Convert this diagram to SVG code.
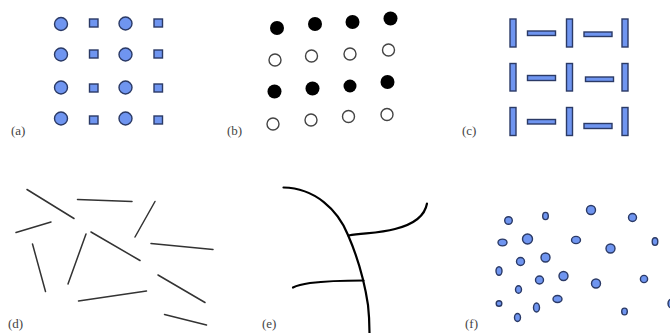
<svg xmlns="http://www.w3.org/2000/svg" width="670" height="333" viewBox="0 0 670 333">
<style>
.lbl{font-family:"Liberation Serif","DejaVu Serif",serif;font-size:13px;fill:#444}
.b{fill:#6f95f0;stroke:#2b3a66;stroke-width:1.4}
.blk{fill:#000}
.opn{fill:#fff;stroke:#444;stroke-width:1.4}
.ln{stroke:#333;stroke-width:1.5;fill:none;stroke-linecap:round}
.cv{stroke:#000;stroke-width:2.2;fill:none;stroke-linecap:round}
</style>
<g id="panel-a">
<g class="b">
<circle cx="61" cy="24" r="6.5"/><circle cx="125.5" cy="23.5" r="6.5"/>
<circle cx="61" cy="54.5" r="6.5"/><circle cx="125.5" cy="54.5" r="6.5"/>
<circle cx="61" cy="87.5" r="6.5"/><circle cx="125.5" cy="87.5" r="6.5"/>
<circle cx="61" cy="118.5" r="6.5"/><circle cx="125.5" cy="118.5" r="6.5"/>
<rect x="89.5" y="19" width="8.5" height="8"/><rect x="154" y="19" width="8.5" height="8"/>
<rect x="89.5" y="50" width="8.5" height="8"/><rect x="154" y="50" width="8.5" height="8"/>
<rect x="89.5" y="84" width="8.5" height="8"/><rect x="154" y="84" width="8.5" height="8"/>
<rect x="89.5" y="116" width="8.5" height="8"/><rect x="154" y="116" width="8.5" height="8"/>
</g>
<text class="lbl" x="11" y="135">(a)</text>
</g>
<g id="panel-b">
<circle class="blk" cx="277" cy="28" r="7"/><circle class="blk" cx="315" cy="24" r="7"/>
<circle class="blk" cx="352.5" cy="22" r="7"/><circle class="blk" cx="390.5" cy="18.5" r="7"/>
<circle class="opn" cx="275" cy="60" r="6"/><circle class="opn" cx="311.5" cy="56" r="6"/>
<circle class="opn" cx="350" cy="54" r="6"/><circle class="opn" cx="388.5" cy="50" r="6"/>
<circle class="blk" cx="274.5" cy="91.5" r="7"/><circle class="blk" cx="312.5" cy="88.5" r="7"/>
<circle class="blk" cx="350" cy="86" r="6.5"/><circle class="blk" cx="387.5" cy="82" r="7"/>
<circle class="opn" cx="273" cy="124" r="6"/><circle class="opn" cx="311" cy="120" r="6"/>
<circle class="opn" cx="348.5" cy="116.5" r="6"/><circle class="opn" cx="387" cy="114.5" r="6"/>
<text class="lbl" x="227" y="135">(b)</text>
</g>
<g id="panel-c">
<g class="b">
<rect x="510" y="19" width="6" height="28"/><rect x="566.5" y="19" width="6" height="28"/><rect x="622" y="19" width="6" height="28"/>
<rect x="510" y="63.5" width="6" height="27.5"/><rect x="566.5" y="63.5" width="6" height="27.5"/><rect x="622" y="63.5" width="6" height="27.5"/>
<rect x="510" y="107.5" width="6" height="28"/><rect x="566.5" y="107.5" width="6" height="28"/><rect x="622" y="107.5" width="6" height="28"/>
<rect x="527.5" y="31" width="28" height="4.5"/><rect x="584" y="32" width="28" height="4.5"/>
<rect x="527.5" y="75.5" width="28" height="5"/><rect x="585.5" y="77" width="28" height="4.5"/>
<rect x="527.5" y="119.5" width="28" height="4.5"/><rect x="584" y="123.5" width="28" height="5"/>
</g>
<text class="lbl" x="462" y="135">(c)</text>
</g>
<g id="panel-d">
<line class="ln" x1="27" y1="189.5" x2="74" y2="218.5"/>
<line class="ln" x1="77.5" y1="199.5" x2="132" y2="201.5"/>
<line class="ln" x1="155" y1="201.5" x2="135" y2="237"/>
<line class="ln" x1="16" y1="232.5" x2="51" y2="222"/>
<line class="ln" x1="32.5" y1="244" x2="45.5" y2="291.5"/>
<line class="ln" x1="86" y1="234" x2="68" y2="284"/>
<line class="ln" x1="91" y1="232" x2="140" y2="260.5"/>
<line class="ln" x1="151" y1="243.5" x2="213" y2="249.5"/>
<line class="ln" x1="158" y1="275" x2="205" y2="302.5"/>
<line class="ln" x1="78.5" y1="301" x2="146.5" y2="291"/>
<line class="ln" x1="164.5" y1="314.5" x2="206.5" y2="325"/>
<text class="lbl" x="8" y="328">(d)</text>
</g>
<g id="panel-e">
<path class="cv" d="M283.5 187.5 C315 188 338 210 348 235 C358 258 365 285 368 305 C369.5 318 369.5 327 369.5 334"/>
<path class="cv" d="M348.5 235.5 C365 233 380 233 395 229 C415 224 425 215 427 203.5"/>
<path class="cv" d="M363.5 280.5 C345 280.5 322 281.5 310 283 C300 284.5 296 286 293 287.5"/>
<text class="lbl" x="262" y="328">(e)</text>
</g>
<g id="panel-f">
<g class="b">
<circle cx="508.5" cy="220.5" r="3.8"/>
<ellipse cx="545.5" cy="216" rx="2.8" ry="3.6"/>
<circle cx="591" cy="210" r="4.5"/>
<circle cx="632.5" cy="217.5" r="4"/>
<ellipse cx="502.5" cy="242.5" rx="4.5" ry="3.4"/>
<circle cx="527.5" cy="239" r="5"/>
<ellipse cx="576" cy="240" rx="4.5" ry="3.6"/>
<circle cx="610.5" cy="248.5" r="4.5"/>
<ellipse cx="655" cy="241.5" rx="2.8" ry="3.8"/>
<circle cx="520.5" cy="261.5" r="4"/>
<circle cx="545.5" cy="257.5" r="4.5"/>
<ellipse cx="499" cy="271" rx="3" ry="4.3"/>
<circle cx="539.5" cy="280" r="4"/>
<circle cx="563.5" cy="276" r="4.5"/>
<circle cx="596" cy="283.5" r="4.5"/>
<ellipse cx="644" cy="279" rx="3.6" ry="3.6"/>
<ellipse cx="518.5" cy="289.5" rx="3" ry="3.8"/>
<circle cx="499" cy="303.5" r="2.8"/>
<ellipse cx="536.5" cy="307.5" rx="3" ry="4.5"/>
<ellipse cx="557.5" cy="299" rx="4.5" ry="3.5"/>
<ellipse cx="624.5" cy="311.5" rx="2.8" ry="3.4"/>
<ellipse cx="517.5" cy="317.5" rx="3" ry="4"/>
<ellipse cx="672" cy="303.5" rx="4" ry="4.5"/>
</g>
<text class="lbl" x="465" y="328">(f)</text>
</g>
</svg>
